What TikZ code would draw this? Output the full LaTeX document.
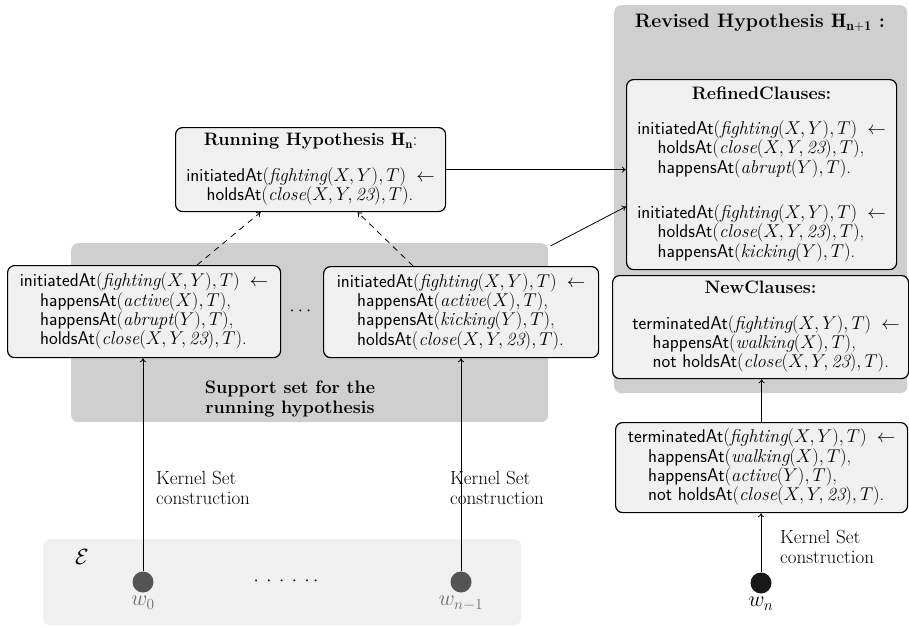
\RequirePackage{fix-cm}
\documentclass[tikz,border=0pt]{standalone}
\usepackage{amsmath,amssymb}
\usepackage{fontspec}
\usetikzlibrary{arrows.meta,positioning,calc}
\definecolor{hyshade}{HTML}{CFCFCF}
\definecolor{hyfill}{HTML}{F0F0F0}
\definecolor{hydot}{HTML}{545454}
\definecolor{hytext}{HTML}{6E6E6E}
\newcommand{\hpred}[1]{\textsf{#1}}
\newcommand{\hind}{\hspace{1.1em}}
\newcommand{\htitle}[1]{\multicolumn{1}{@{}c@{}}{#1}}
\tikzset{
  clause/.style={draw=black,fill=hyfill,rounded corners=7pt,line width=1.2pt,
                 anchor=north west,inner xsep=5pt,inner ysep=3pt,align=left},
  panel/.style={fill=hyshade,rounded corners=7pt,anchor=north west,inner sep=0pt},
  ar/.style={-{To[length=4pt,width=6pt]},line width=0.8pt},
  arr/.style={-{To[length=4pt,width=6pt]},line width=0.8pt,dash pattern=on 6pt off 5pt},
  wdot/.style={circle,fill=hydot,minimum size=21pt,inner sep=0pt},
  lab/.style={align=left,anchor=west,inner sep=0pt,font=\fontsize{19}{19.5}\selectfont},
  head/.style={font=\fontsize{18}{19.5}\selectfont\bfseries},
  wlab/.style={font=\fontsize{22}{22}\selectfont},
}
\begin{document}
\begin{tikzpicture}[x=1pt,y=-1pt,every node/.style={font=\fontsize{18.5}{18.3}\selectfont}]
  \useasboundingbox (0,0) rectangle (909,626);
  \node[panel,minimum width=477pt,minimum height=179pt] (sup) at (71,243) {};
  \node[panel,minimum width=293pt,minimum height=388pt] (rev) at (614,5) {};
  \node[panel,fill=hyfill,minimum width=478pt,minimum height=86pt] (ev) at (43,539) {};
  \node[head,align=center] (suptxt) at (290,399) {Support set for the\\running hypothesis};
  \node[head,font=\fontsize{19.5}{20}\selectfont\bfseries] (revtxt) at (760,23)
    {Revised Hypothesis $\mathbf{H_{n+1}}$ :};
  \node[clause,minimum width=270pt,minimum height=84pt] (run) at (175,127) {\begin{tabular}{@{}l@{}}
    \htitle{\fontsize{18}{18.3}\selectfont\textbf{Running Hypothesis $\mathbf{H_n}$}:}\\[16pt]
    \hpred{initiatedAt}$(\textit{fighting}(X,Y),T)\;\leftarrow$\\
    \hind\hpred{holdsAt}$(\textit{close}(X,Y,\textit{23}),T)$.
  \end{tabular}};
  \node[clause,minimum width=273pt,minimum height=92pt] (left) at (7,265) {\begin{tabular}{@{}l@{}}
    \hpred{initiatedAt}$(\textit{fighting}(X,Y),T)\;\leftarrow$\\
    \hind\hpred{happensAt}$(\textit{active}(X),T)$,\\
    \hind\hpred{happensAt}$(\textit{abrupt}(Y),T)$,\\
    \hind\hpred{holdsAt}$(\textit{close}(X,Y,\textit{23}),T)$.
  \end{tabular}};
  \node[clause,minimum width=275pt,minimum height=91pt] (right) at (323,266) {\begin{tabular}{@{}l@{}}
    \hpred{initiatedAt}$(\textit{fighting}(X,Y),T)\;\leftarrow$\\
    \hind\hpred{happensAt}$(\textit{active}(X),T)$,\\
    \hind\hpred{happensAt}$(\textit{kicking}(Y),T)$,\\
    \hind\hpred{holdsAt}$(\textit{close}(X,Y,\textit{23}),T)$.
  \end{tabular}};
  \node (mid) at (302,311) {$\cdots$};
  \node[clause,minimum width=270pt,minimum height=190pt] (ref) at (626,79) {\begin{tabular}{@{}l@{}}
    \htitle{\fontsize{18}{18.3}\selectfont\textbf{RefinedClauses:}}\\[16pt]
    \hpred{initiatedAt}$(\textit{fighting}(X,Y),T)\;\leftarrow$\\
    \hind\hpred{holdsAt}$(\textit{close}(X,Y,\textit{23}),T)$,\\
    \hind\hpred{happensAt}$(\textit{abrupt}(Y),T)$.\\[26pt]
    \hpred{initiatedAt}$(\textit{fighting}(X,Y),T)\;\leftarrow$\\
    \hind\hpred{holdsAt}$(\textit{close}(X,Y,\textit{23}),T)$,\\
    \hind\hpred{happensAt}$(\textit{kicking}(Y),T)$.
  \end{tabular}};
  \node[clause,minimum width=296pt,minimum height=103pt] (new) at (612,275) {\begin{tabular}{@{}l@{}}
    \htitle{\fontsize{18}{18.3}\selectfont\textbf{NewClauses:}}\\[16pt]
    \hpred{terminatedAt}$(\textit{fighting}(X,Y),T)$\rlap{$\;\;\leftarrow$}\\
    \hind\hpred{happensAt}$(\textit{walking}(X),T)$,\\
    \hind\hpred{not holdsAt}$(\textit{close}(X,Y,\textit{23}),T)$.
  \end{tabular}};
  \node[clause,minimum width=292pt,minimum height=90pt] (term) at (615,422) {\begin{tabular}{@{}l@{}}
    \hpred{terminatedAt}$(\textit{fighting}(X,Y),T)\;\leftarrow$\\
    \hind\hpred{happensAt}$(\textit{walking}(X),T)$,\\
    \hind\hpred{happensAt}$(\textit{active}(Y),T)$,\\
    \hind\hpred{not holdsAt}$(\textit{close}(X,Y,\textit{23}),T)$.
  \end{tabular}};
  \node[wlab] (eps) at (82,557) {$\mathcal{E}$};
  \foreach \n/\x/\t in {w0/143/w_0,w1/461/w_{n-1}}
    {\node[wdot] (\n) at (\x,582) {};
     \node[wlab,below=0pt of \n,text=hytext] (\n lab) {$\t$};}
  \node (dots) at (286,581)
    {$\cdot\hspace{3.5pt}\cdot\hspace{3.5pt}\cdot\hspace{3.5pt}\cdot\hspace{3.5pt}\cdot\hspace{3.5pt}\cdot$};
  \node[wdot,fill=black!90] (wn) at (761,583) {};
  \node[wlab,below=0pt of wn] (wnlab) {$w_n$};
  \node[lab] (k0) at (156,488) {Kernel Set\\construction};
  \node[lab] (k1) at (450,488) {Kernel Set\\construction};
  \node[lab] (k2) at (780,547) {Kernel Set\\construction};
  \draw[ar] (w0) -- (w0 |- left.south);
  \draw[ar] (w1) -- (w1 |- right.south);
  \draw[ar] (wn) -- (wn |- term.south);
  \draw[ar] (term.north) -- (term.north |- new.south);
  \draw[arr] ([xshift=53pt]left.north) -- ([xshift=-50pt]run.south);
  \draw[arr] ([xshift=-48pt]right.north) -- ([xshift=47pt]run.south);
  \draw[ar] (run.east) -- (run.east -| ref.west);
  \draw[ar] ([shift={(2pt,-3pt)}]sup.north east) -- ([yshift=-32pt]ref.west);
\end{tikzpicture}
\end{document}
